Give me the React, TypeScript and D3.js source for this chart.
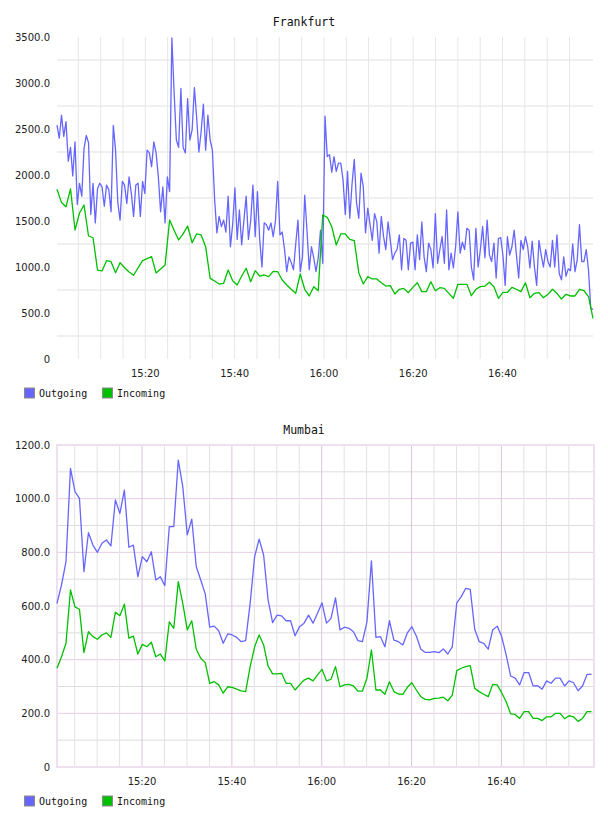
import React from "react";
import * as d3 from "d3";

const seriesLabels = ["Outgoing", "Incoming"];
const seriesColors = ["#6666ff", "#00c000"];
const timeLabels = ["15:20", "15:40", "16:00", "16:20", "16:40"];

// Frankfurt
const frankfurtStart = "15:00:13";
const frankfurtEnd = "17:00:16";
const frankfurtYLabels = [0, 500, 1000, 1500, 2000, 2500, 3000, 3500];
const frankfurtOutgoing = [
  2543, 2400, 2650, 2420, 2580, 2150, 2300, 1990, 2360, 1680,
  1910, 1770, 2290, 2430, 2350, 1570, 1910, 1480, 1850, 1910,
  1870, 1660, 1890, 1840, 1600, 2540, 2270, 1700, 1510, 1930,
  1890, 1690, 1980, 1800, 1550, 1890, 1910, 1550, 1930, 1800,
  2270, 2240, 2090, 2360, 2240, 1980, 1600, 1870, 1480, 1980,
  1820, 3490, 2900, 2380, 2300, 2940, 2300, 2240, 2830, 2380,
  2490, 2950, 2630, 2250, 2470, 2770, 2270, 2650, 2380, 2270,
  1730, 1370, 1550, 1440, 1510, 1380, 1770, 1220, 1460, 1860,
  1300, 1620, 1240, 1510, 1770, 1300, 1500, 1890, 1330, 1820,
  1300, 1000, 1480, 1460, 1400, 1480, 1330, 1500, 1930, 1350,
  1380, 1200, 950, 1110, 1050, 970, 1250, 1510, 950, 1110,
  1780, 1400, 970, 1220, 1100, 950, 1100, 1400, 1040, 2640,
  2200, 2220, 2030, 2200, 2040, 2130, 2130, 1950, 1570, 2040,
  1530, 1900, 2170, 1700, 1530, 2020, 1870, 1370, 1640, 1460,
  1290, 1580, 1490, 1150, 1550, 1330, 1190, 1490, 1290, 1080,
  1150, 1190, 1350, 970, 1310, 1290, 970, 1260, 1270, 970,
  1350, 1080, 1490, 1110, 950, 1260, 1190, 990, 1580, 1040,
  1190, 1330, 1040, 1620, 970, 1150, 990, 1220, 1600, 1150,
  1270, 1190, 1420, 1400, 1000, 860, 1420, 1000, 1190, 1440,
  1100, 1510, 1130, 1060, 1260, 880, 1310, 1320, 1130, 800,
  1330, 1130, 1220, 1400, 1130, 880, 1290, 1190, 1330, 1220,
  990, 1280, 1000, 800, 1290, 1130, 1000, 1190, 1060, 1000,
  1290, 1000, 1350, 930, 860, 1110, 900, 980, 960, 1250,
  950, 1080, 1460, 1060, 1060, 1190, 970, 550, 540,
];
const frankfurtIncoming = [
  1845, 1700, 1655, 1850, 1402, 1587, 1674, 1337, 1318, 967,
  957, 1069, 1058, 938, 1047, 992, 945, 910, 990, 1069,
  1090, 1112, 935, 978, 1022, 1511, 1400, 1294, 1360, 1446,
  1264, 1359, 1348, 1221, 877, 848, 815, 823, 967, 851,
  804, 902, 986, 840, 960, 902, 913, 895, 953, 949,
  859, 804, 758, 714, 924, 758, 685, 786, 742, 1565,
  1540, 1438, 1239, 1359, 1359, 1301, 1286, 938, 815, 895,
  870, 870, 829, 793, 797, 707, 758, 768, 721, 779,
  829, 732, 732, 840, 742, 775, 768, 714, 660, 812,
  812, 812, 688, 758, 786, 793, 834, 786, 660, 725,
  725, 779, 758, 732, 829, 666, 714, 721, 666, 703,
  758, 714, 652, 703, 685, 685, 758, 742, 677, 442,
];

// Mumbai
const mumbaiStart = "15:01:04";
const mumbaiEnd = "17:00:04";
const mumbaiAxisEnd = "17:00:37";
const mumbaiYLabels = [0, 200, 400, 600, 800, 1000, 1200];
const mumbaiOutgoing = [
  610, 678, 765, 1113, 1026, 1001, 728, 873, 827, 800,
  834, 846, 824, 995, 945, 1032, 819, 827, 709, 784,
  765, 802, 697, 709, 676, 896, 896, 1144, 1045, 865,
  924, 747, 697, 645, 521, 525, 508, 461, 496, 492,
  483, 467, 471, 610, 784, 849, 790, 622, 538, 566,
  563, 545, 545, 489, 523, 536, 566, 536, 573, 612,
  536, 554, 630, 511, 521, 517, 504, 471, 467, 541,
  768, 483, 486, 448, 545, 473, 467, 455, 500, 523,
  488, 439, 427, 427, 430, 426, 440, 421, 448, 612,
  635, 666, 662, 513, 467, 461, 439, 511, 525, 486,
  417, 339, 331, 306, 352, 352, 302, 303, 290, 321,
  312, 331, 331, 302, 321, 314, 284, 302, 345, 345,
];
const mumbaiIncoming = [
  368, 411, 461, 660, 597, 588, 426, 504, 486, 476,
  492, 500, 483, 577, 564, 607, 480, 488, 421, 457,
  448, 465, 411, 421, 395, 541, 517, 691, 610, 511,
  545, 439, 405, 389, 312, 318, 306, 275, 299, 297,
  290, 284, 281, 374, 448, 492, 455, 376, 347, 347,
  349, 312, 312, 287, 306, 324, 331, 321, 343, 364,
  321, 327, 374, 299, 306, 308, 302, 283, 283, 331,
  436, 287, 287, 271, 318, 281, 272, 271, 297, 314,
  287, 262, 252, 250, 256, 257, 260, 247, 268, 359,
  368, 374, 378, 293, 281, 271, 262, 308, 306, 277,
  243, 198, 196, 181, 206, 206, 181, 181, 173, 187,
  187, 200, 200, 180, 191, 187, 170, 181, 206, 206,
];

const parseTime = d3.timeParse("%H:%M:%S");

const evenTimes = (start, end, n) => {
  const s = +parseTime(start);
  const e = +parseTime(end);
  return d3.range(n).map((i) => new Date(s + ((e - s) * i) / (n - 1)));
};

const monoFont = "'DejaVu Sans Mono', monospace";
const sansFont = "'DejaVu Sans', Verdana, sans-serif";

const Panel = ({ title, top, yMax, yLabels, framed, series, axisStart, axisEnd }) => {
  const left = 57;
  const right = framed ? 594 : 593;
  const x = d3
    .scaleTime()
    .domain([parseTime(axisStart), parseTime(axisEnd)])
    .range([left, right]);
  const y = d3.scaleLinear().domain([0, yMax]).range([top + 359, top + 37]);

  const minuteTicks = x
    .ticks(d3.timeMinute.every(5))
    .filter((t) => t.getHours() * 60 + t.getMinutes() < 17 * 60);
  const majorTicks = timeLabels.map((t) => parseTime(t + ":00"));
  const isMajor = (t) => majorTicks.some((m) => +m === +t);

  const step = yLabels[1] - yLabels[0];
  const minorY = d3.range(step / 2, yMax, step);

  const line = d3
    .line()
    .x((d) => x(d.t))
    .y((d) => y(d.v));

  return (
    <g>
      <text
        x={304}
        y={top + 26}
        textAnchor="middle"
        fontFamily={monoFont}
        fontSize={11.5}
        fill="#111"
      >
        {title}
      </text>

      {/* grid */}
      {framed ? (
        <g>
          {minorY.map((v) => (
            <line key={"mh" + v} x1={left} x2={right} y1={y(v)} y2={y(v)} stroke="#dddddd" strokeWidth={1} />
          ))}
          {yLabels.map((v) => (
            <line key={"Mh" + v} x1={left} x2={right} y1={y(v)} y2={y(v)} stroke="#e6cce6" strokeWidth={1} />
          ))}
          {minuteTicks.map((t) => (
            <line
              key={"v" + +t}
              x1={x(t)}
              x2={x(t)}
              y1={y(yMax)}
              y2={y(0)}
              stroke={isMajor(t) ? "#dcc4dc" : "#e2e2e2"}
              strokeWidth={1}
            />
          ))}
          <rect
            x={left}
            y={y(yMax)}
            width={right - left}
            height={y(0) - y(yMax)}
            fill="none"
            stroke="#efdfef"
            strokeWidth={2}
          />
        </g>
      ) : (
        <g>
          {minorY.map((v) => (
            <line key={"mh" + v} x1={left} x2={right} y1={y(v)} y2={y(v)} stroke="#f0f0f0" strokeWidth={2} />
          ))}
          {minuteTicks.map((t) => (
            <line key={"v" + +t} x1={x(t)} x2={x(t)} y1={y(yMax)} y2={y(0)} stroke="#e6e6e6" strokeWidth={1} />
          ))}
        </g>
      )}

      {/* y labels */}
      {yLabels.map((v) => (
        <text
          key={"yl" + v}
          x={50}
          y={y(v)}
          dy="0.36em"
          textAnchor="end"
          fontFamily={sansFont}
          fontSize={10}
          fill="#222"
        >
          {v === 0 ? "0" : v.toFixed(1)}
        </text>
      ))}

      {/* x labels */}
      {majorTicks.map((t, i) => (
        <text
          key={"xl" + i}
          x={x(t)}
          y={top + 376.5}
          textAnchor="middle"
          fontFamily={sansFont}
          fontSize={10}
          fill="#222"
        >
          {timeLabels[i]}
        </text>
      ))}

      {/* lines */}
      {series.map((s, i) => (
        <path
          key={"s" + i}
          d={line(s.points)}
          fill="none"
          stroke={seriesColors[i]}
          strokeWidth={1.3}
          strokeLinejoin="round"
        />
      ))}

      {/* legend */}
      {seriesLabels.map((name, i) => {
        const lx = i === 0 ? 24 : 102;
        return (
          <g key={"lg" + name}>
            <rect
              x={lx + 0.5}
              y={top + 388}
              width={10}
              height={10}
              fill={seriesColors[i]}
              stroke="#8a8a8a"
              strokeWidth={1}
            />
            <text
              x={lx + 15}
              y={top + 397}
              fontFamily={monoFont}
              fontSize={10}
              fill="#111"
            >
              {name}
            </text>
          </g>
        );
      })}
    </g>
  );
};

const toPoints = (values, start, end) => {
  const times = evenTimes(start, end, values.length);
  return values.map((v, i) => ({ t: times[i], v }));
};

export default function App() {
  const frankfurtSeries = [
    { points: toPoints(frankfurtOutgoing, frankfurtStart, frankfurtEnd) },
    { points: toPoints(frankfurtIncoming, frankfurtStart, frankfurtEnd) },
  ];
  const mumbaiSeries = [
    { points: toPoints(mumbaiOutgoing, mumbaiStart, mumbaiEnd) },
    { points: toPoints(mumbaiIncoming, mumbaiStart, mumbaiEnd) },
  ];

  return (
    <svg
      width={608}
      height={816}
      style={{ position: "absolute", left: 0, top: 0, background: "#fff" }}
    >
      <Panel
        title="Frankfurt"
        top={0}
        yMax={3500}
        yLabels={frankfurtYLabels}
        framed={false}
        series={frankfurtSeries}
        axisStart={frankfurtStart}
        axisEnd={frankfurtEnd}
      />
      <Panel
        title="Mumbai"
        top={408}
        yMax={1200}
        yLabels={mumbaiYLabels}
        framed={true}
        series={mumbaiSeries}
        axisStart={mumbaiStart}
        axisEnd={mumbaiAxisEnd}
      />
    </svg>
  );
}
